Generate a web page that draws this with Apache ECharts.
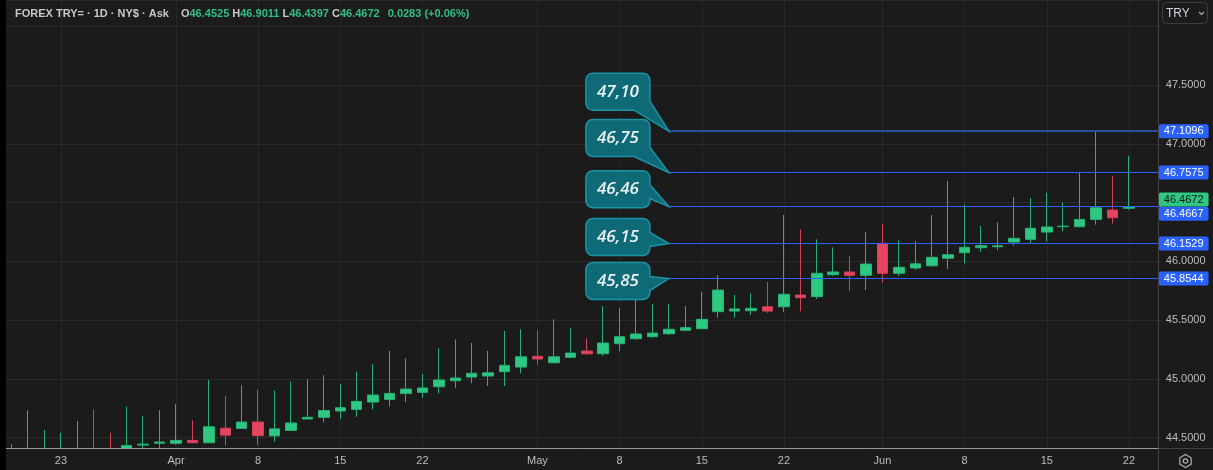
<!DOCTYPE html>
<html>
<head>
<meta charset="utf-8">
<script src="https://cdn.jsdelivr.net/npm/echarts@6/dist/echarts.min.js"></script>
<style>
  html, body { margin: 0; padding: 0; background: #1b1b1b; }
  #chart { width: 1213px; height: 470px; }
</style>
</head>
<body>
<div id="chart"></div>
<script>
// daily candles, USD/TRY ask
const dates = [
  '2026-03-18', '2026-03-19', '2026-03-20',
  '2026-03-23', '2026-03-24', '2026-03-25', '2026-03-26', '2026-03-27',
  '2026-03-30', '2026-03-31', '2026-04-01', '2026-04-02', '2026-04-03',
  '2026-04-06', '2026-04-07', '2026-04-08', '2026-04-09', '2026-04-10',
  '2026-04-13', '2026-04-14', '2026-04-15', '2026-04-16', '2026-04-17',
  '2026-04-20', '2026-04-21', '2026-04-22', '2026-04-23', '2026-04-24',
  '2026-04-27', '2026-04-28', '2026-04-29', '2026-04-30', '2026-05-01',
  '2026-05-04', '2026-05-05', '2026-05-06', '2026-05-07', '2026-05-08',
  '2026-05-11', '2026-05-12', '2026-05-13', '2026-05-14', '2026-05-15',
  '2026-05-18', '2026-05-19', '2026-05-20', '2026-05-21', '2026-05-22',
  '2026-05-25', '2026-05-26', '2026-05-27', '2026-05-28', '2026-05-29',
  '2026-06-01', '2026-06-02', '2026-06-03', '2026-06-04', '2026-06-05',
  '2026-06-08', '2026-06-09', '2026-06-10', '2026-06-11', '2026-06-12',
  '2026-06-15', '2026-06-16', '2026-06-17', '2026-06-18', '2026-06-19',
  '2026-06-22'
];

const opens = [
  44.37, 44.36, 44.37, 44.37, 44.37, 44.40, 44.39, 44.40, 44.436, 44.452,
  44.451, 44.476, 44.456, 44.58, 44.578, 44.632, 44.514, 44.561, 44.658, 44.672,
  44.726, 44.74, 44.802, 44.825, 44.876, 44.885, 44.933, 44.984, 45.015, 45.024,
  45.061, 45.10, 45.192, 45.137, 45.183, 45.237, 45.214, 45.299, 45.342, 45.359,
  45.384, 45.413, 45.427, 45.572, 45.577, 45.58, 45.614, 45.614, 45.714, 45.70,
  45.887, 45.91, 45.882, 46.154, 45.899, 45.944, 45.963, 46.027, 46.074, 46.117,
  46.125, 46.165, 46.188, 46.25, 46.296, 46.296, 46.358, 46.438, 46.4525
];
const closes = [
  44.40, 44.39, 44.39, 44.39, 44.40, 44.37, 44.37, 44.433, 44.444, 44.462,
  44.476, 44.456, 44.592, 44.52, 44.632, 44.516, 44.574, 44.624, 44.672, 44.73,
  44.754, 44.808, 44.862, 44.876, 44.913, 44.922, 44.99, 45.007, 45.047, 45.052,
  45.115, 45.188, 45.169, 45.188, 45.22, 45.214, 45.305, 45.359, 45.382, 45.39,
  45.422, 45.436, 45.507, 45.756, 45.595, 45.60, 45.577, 45.72, 45.691, 45.899,
  45.91, 45.882, 45.978, 45.899, 45.95, 45.98, 46.035, 46.057, 46.12, 46.134,
  46.134, 46.197, 46.282, 46.293, 46.30, 46.358, 46.457, 46.372, 46.4672
];
const lows = [
  44.35, 44.33, 44.34, 44.35, 44.35, 44.34, 44.35, 44.38, 44.413, 44.40,
  44.44, 44.452, 44.452, 44.43, 44.575, 44.436, 44.465, 44.558, 44.655, 44.63,
  44.658, 44.677, 44.74, 44.763, 44.802, 44.839, 44.876, 44.922, 44.962, 44.939,
  44.939, 45.047, 45.12, 45.134, 45.18, 45.203, 45.197, 45.237, 45.33, 45.35,
  45.376, 45.407, 45.424, 45.52, 45.52, 45.543, 45.563, 45.569, 45.575, 45.68,
  45.878, 45.748, 45.756, 45.819, 45.876, 45.927, 45.955, 45.935, 45.984, 46.083,
  46.097, 46.134, 46.154, 46.171, 46.256, 46.29, 46.313, 46.321, 46.4397
];
const highs = [
  44.442, 44.732, 44.564, 44.541, 44.641, 44.74, 44.541, 44.763, 44.683, 44.734,
  44.785, 44.647, 44.992, 44.854, 44.947, 44.907, 44.899, 44.975, 44.998, 45.032,
  44.956, 45.061, 45.123, 45.237, 45.175, 45.041, 45.26, 45.336, 45.305, 45.237,
  45.407, 45.422, 45.413, 45.507, 45.43, 45.345, 45.62, 45.603, 45.671, 45.637,
  45.637, 45.62, 45.742, 45.884, 45.714, 45.728, 45.827, 46.395, 46.273, 46.188,
  46.12, 46.049, 46.248, 46.319, 46.18, 46.174, 46.395, 46.685, 46.486, 46.302,
  46.333, 46.549, 46.54, 46.585, 46.503, 46.756, 47.1096, 46.73, 46.9011
];

const tickDates = [
  '2026-03-23', '2026-04-01', '2026-04-08', '2026-04-15', '2026-04-22', '2026-05-01', '2026-05-08',
  '2026-05-15', '2026-05-22', '2026-06-01', '2026-06-08', '2026-06-15', '2026-06-22'
];
const tickLabels = ['23', 'Apr', '8', '15', '22', 'May', '8', '15', '22', 'Jun', '8', '15', '22'];

// horizontal price levels and their callouts
const priceLevels = [47.1096, 46.7575, 46.4667, 46.1529, 45.8544];
const calloutTexts = ['47,10', '46,75', '46,46', '46,15', '45,85'];
const levelStartDate = '2026-05-13';

const symbolTitle = 'FOREX TRY= · 1D · NY$ · Ask';
const quoteChange = '0.0283';
const quoteChangePct = '+0.06%';

const GREEN = '#2ec883';
const RED = '#e5455e';
const BLUE = '#2962ff';
const BG = '#1b1b1b';
const FONT = 'Liberation Sans';

const chartDom = document.getElementById('chart');
const myChart = echarts.init(chartDom, null, { renderer: 'canvas' });

// one padding slot before the first day, two after the last one
const categories = ['pad-start'].concat(dates, ['pad-end-1', 'pad-end-2']);
const lastIdx = categories.length - 1;
const candles = [['-', '-', '-', '-']].concat(
  dates.map((d, i) => [opens[i], closes[i], lows[i], highs[i]])
);

const last = dates.length - 1;
const lastClose = closes[last];
const isTick = (i, v) => tickDates.indexOf(v) >= 0;

const priceTag = (txt, bg, fg, vAlign) => ({
  show: true,
  position: 'end',
  distance: -3,
  formatter: txt,
  color: fg,
  backgroundColor: bg,
  fontFamily: FONT,
  fontSize: 11,
  lineHeight: 12,
  padding: [1, 5, 1, 5],
  borderRadius: 2,
  verticalAlign: vAlign
});

const levelLines = priceLevels.map((lv, i) => [
  {
    coord: [levelStartDate, lv],
    lineStyle: { color: i === 0 ? '#2b4c9f' : BLUE, width: i === 0 ? 2 : 1, type: 'solid' },
    label: priceTag(lv.toFixed(4), BLUE, '#ffffff', i === 2 ? 'top' : 'middle')
  },
  { coord: [lastIdx, lv] }
]);
// last price tag (no line of its own)
levelLines.push([
  {
    coord: [dates[last], lastClose],
    lineStyle: { color: 'rgba(0,0,0,0)', width: 1, type: 'solid' },
    label: priceTag(lastClose.toFixed(4), GREEN, '#111111', 'bottom')
  },
  { coord: [lastIdx, lastClose] }
]);

const option = {
  animation: false,
  backgroundColor: BG,
  title: {
    left: 15,
    top: 8,
    padding: 0,
    text: '{t|' + symbolTitle + '}{o|O}{g|' + opens[last].toFixed(4) + '} {t|H}{g|' + highs[last].toFixed(4) +
      '} {t|L}{g|' + lows[last].toFixed(4) + '} {t|C}{g|' + lastClose.toFixed(4) + '}{c|' + quoteChange +
      '}{g| (' + quoteChangePct + ')}',
    textStyle: {
      fontSize: 11,
      fontFamily: FONT,
      color: '#c8c8c8',
      rich: {
        t: { color: '#c8c8c8', fontSize: 11, fontFamily: FONT },
        o: { color: '#c8c8c8', fontSize: 11, fontFamily: FONT, padding: [0, 0, 0, 12] },
        g: { color: '#2fbf84', fontSize: 11, fontFamily: FONT },
        c: { color: '#2fbf84', fontSize: 11, fontFamily: FONT, padding: [0, 0, 0, 8] }
      }
    }
  },
  grid: {
    left: -4.73,
    right: 51.2,
    top: 0,
    bottom: 22,
    outerBoundsMode: 'none'
  },
  xAxis: [
    {
      // time labels and axis line, drawn above the bottom cover
      type: 'category',
      z: 60,
      data: categories,
      boundaryGap: false,
      axisLine: { lineStyle: { color: '#9a9a9a', width: 1 } },
      axisTick: { show: false },
      axisLabel: {
        interval: isTick,
        formatter: (v) => {
          const k = tickDates.indexOf(v);
          return k >= 0 ? tickLabels[k] : '';
        },
        color: '#bdbdbd',
        fontSize: 11,
        fontFamily: FONT,
        margin: 7
      },
      splitLine: { show: false }
    },
    {
      // same days, only for the vertical grid lines behind the candles
      type: 'category',
      position: 'top',
      data: categories,
      boundaryGap: false,
      axisLine: { show: false },
      axisTick: { show: false },
      axisLabel: { show: false },
      splitLine: { show: true, interval: isTick, lineStyle: { color: '#272727', width: 1 } }
    }
  ],
  yAxis: {
    type: 'value',
    position: 'right',
    offset: -4,
    min: 44.411,
    max: 48.2266,
    splitNumber: 8,
    axisLine: { show: false },
    axisTick: { show: false },
    axisLabel: {
      showMinLabel: false,
      showMaxLabel: false,
      color: '#bdbdbd',
      fontSize: 11,
      fontFamily: FONT,
      margin: 8,
      formatter: (v) => {
        const onHalf = Math.abs(v * 2 - Math.round(v * 2)) < 1e-6;
        return onHalf && v < 47.99 ? v.toFixed(4) : '';
      }
    },
    splitLine: { lineStyle: { color: '#2a2a2a', width: 1 } }
  },
  series: [
    {
      name: 'TRY=',
      type: 'candlestick',
      xAxisIndex: 0,
      clip: true,
      data: candles,
      barWidth: 11,
      itemStyle: {
        color: GREEN,
        color0: RED,
        borderColor: '#27b373',
        borderColor0: '#d63f58',
        borderWidth: 1
      },
      markLine: {
        symbol: 'none',
        silent: true,
        animation: false,
        data: levelLines
      }
    }
  ]
};

myChart.setOption(option);

// callout boxes next to the level lines (rounded box with a pointer)
function calloutPoints(bx, by, w, h, r, tailType, tip) {
  const pts = [];
  const arc = (cx, cy, a0, a1) => {
    for (let k = 0; k <= 4; k++) {
      const a = a0 + (a1 - a0) * k / 4;
      pts.push([cx + r * Math.cos(a), cy + r * Math.sin(a)]);
    }
  };
  arc(bx + r, by + r, Math.PI, Math.PI * 1.5);
  arc(bx + w - r, by + r, Math.PI * 1.5, Math.PI * 2);
  if (tailType === 'side') {
    pts.push([bx + w, by + 14], tip, [bx + w, by + 28]);
    arc(bx + w - r, by + h - r, 0, Math.PI * 0.5);
  } else {
    pts.push([bx + w, by + h - 9], tip, [bx + w - 16, by + h]);
  }
  arc(bx + r, by + h - r, Math.PI * 0.5, Math.PI);
  return pts;
}

const boxDrop = [58, 53, 36, 25, 16];
const tailTypes = ['bottom', 'bottom', 'side', 'side', 'side'];
const tipX = myChart.convertToPixel({ xAxisIndex: 0 }, levelStartDate);
const elements = [];

priceLevels.forEach((lv, i) => {
  const tipY = myChart.convertToPixel({ yAxisIndex: 0 }, lv);
  const w = 64, h = 37;
  const bx = tipX - 19 - w;
  const by = tipY - boxDrop[i];
  elements.push({
    type: 'polygon',
    z: 100,
    shape: { points: calloutPoints(bx, by, w, h, 7, tailTypes[i], [tipX, tipY]) },
    style: { fill: '#0f6a78', stroke: '#1b93a3', lineWidth: 1.5 }
  });
  elements.push({
    type: 'text',
    z: 101,
    x: bx + w / 2,
    y: by + h / 2 + 0.5,
    style: {
      text: calloutTexts[i],
      fill: '#eef4f5',
      font: 'italic 600 17px "Open Sans"',
      align: 'center',
      verticalAlign: 'middle'
    }
  });
});

// the plot is clipped at the time axis: cover anything below it
const axisY = myChart.convertToPixel({ yAxisIndex: 0 }, 44.411);

// frame pieces: left strip, pane separators, currency button, settings icon
elements.push(
  { type: 'rect', z: 50, shape: { x: 0, y: axisY + 0.5, width: 1158, height: 470 - axisY }, style: { fill: BG } },
  { type: 'rect', z: 120, shape: { x: 0, y: 0, width: 6, height: 470 }, style: { fill: '#000000' } },
  { type: 'line', z: 110, shape: { x1: 1158.5, y1: 0, x2: 1158.5, y2: 470 }, style: { stroke: '#434343', lineWidth: 1 } },
  { type: 'line', z: 110, shape: { x1: 1158, y1: 448.5, x2: 1213, y2: 448.5 }, style: { stroke: '#434343', lineWidth: 1 } },
  { type: 'rect', z: 110, shape: { x: 1162.5, y: 2.5, width: 45, height: 21, r: 4 }, style: { fill: BG, stroke: '#3d3d3d', lineWidth: 1 } },
  {
    type: 'text', z: 111, x: 1166, y: 13.5,
    style: { text: 'TRY', fill: '#d1d4dc', font: '500 12px "Liberation Sans"', align: 'left', verticalAlign: 'middle' }
  },
  { type: 'polyline', z: 111, shape: { points: [[1199, 12], [1201.5, 14.5], [1204, 12]] }, style: { stroke: '#a8a8a8', lineWidth: 1.2, fill: null } },
  {
    type: 'polygon', z: 111,
    shape: {
      points: [0, 1, 2, 3, 4, 5].map((k) => {
        const a = Math.PI / 6 + k * Math.PI / 3;
        return [1185.5 + 6.5 * Math.cos(a), 461 + 6.5 * Math.sin(a)];
      })
    },
    style: { fill: null, stroke: '#b0b0b0', lineWidth: 1.2 }
  },
  { type: 'circle', z: 111, shape: { cx: 1185.5, cy: 461, r: 2.2 }, style: { fill: null, stroke: '#b0b0b0', lineWidth: 1.2 } }
);

myChart.setOption({ graphic: { elements: elements } });

window.addEventListener('resize', () => myChart.resize());
</script>
</body>
</html>
